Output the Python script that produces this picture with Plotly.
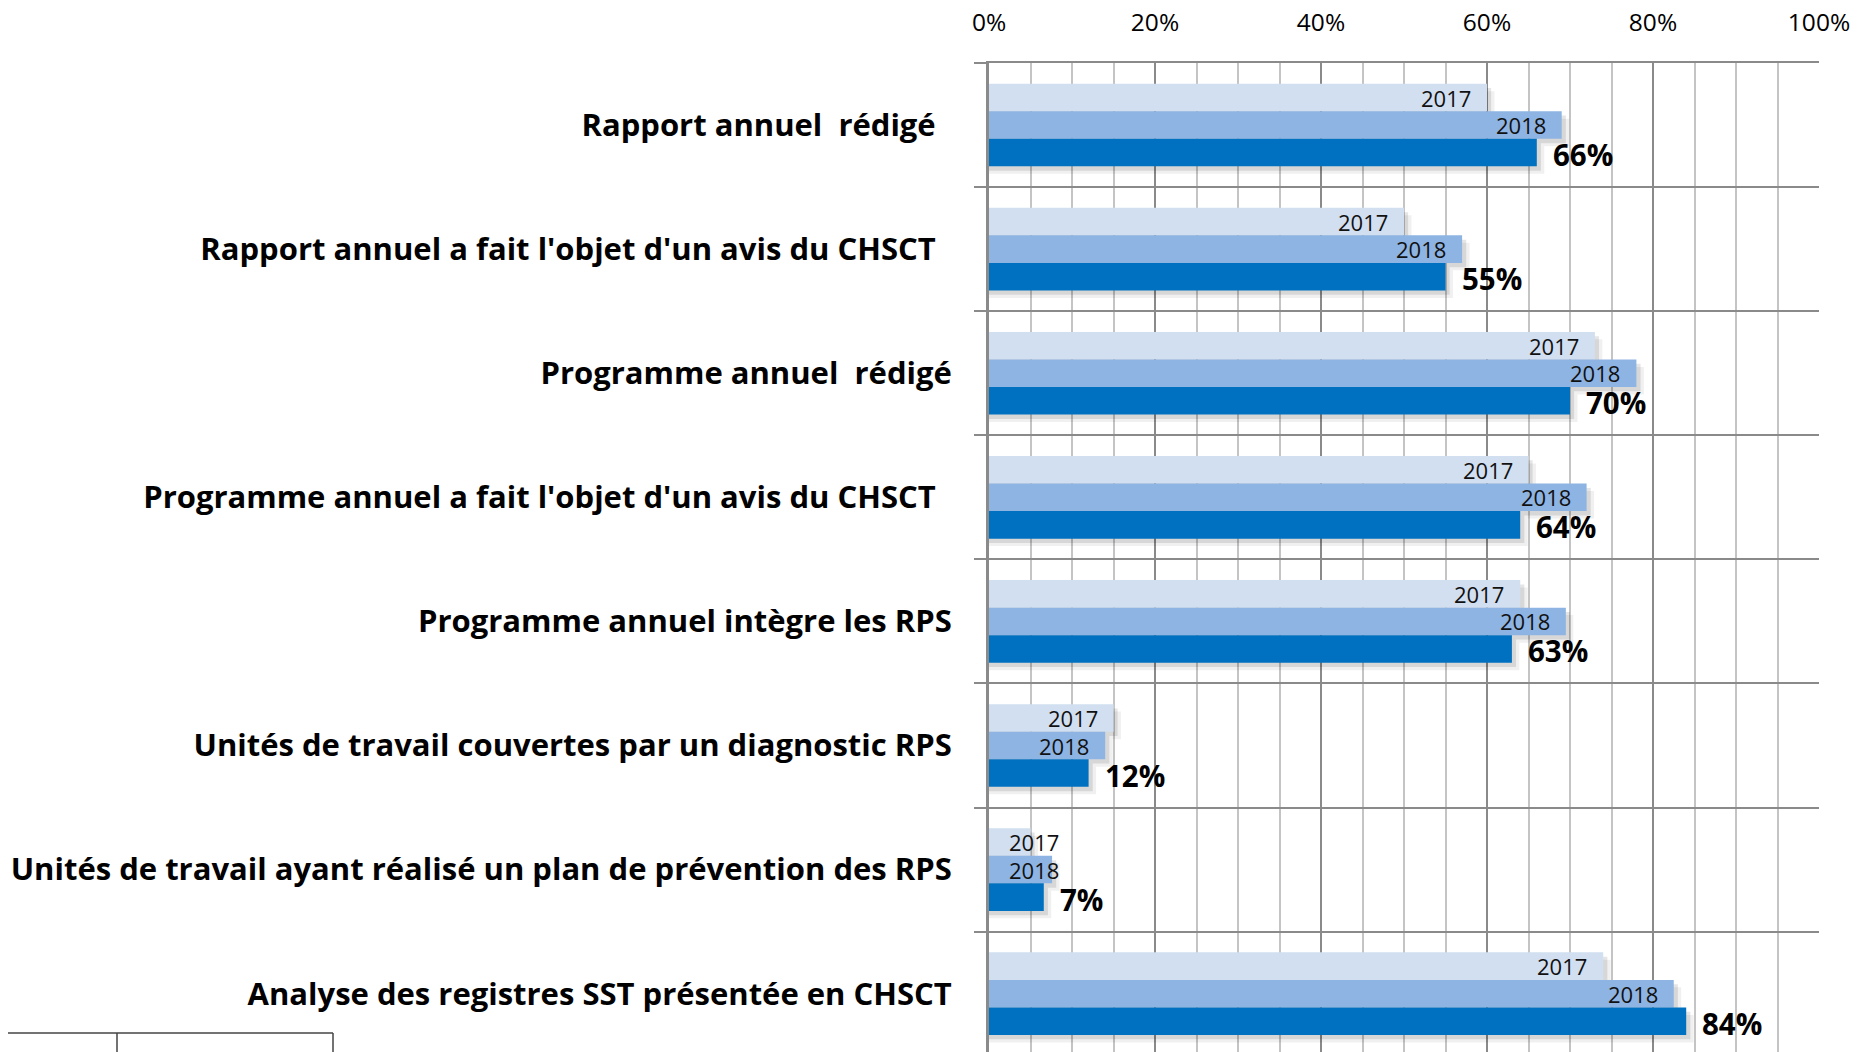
import plotly.graph_objects as go

categories = [
    "Rapport annuel  rédigé\u00a0\u00a0",
    "Rapport annuel a fait l'objet d'un avis du CHSCT\u00a0\u00a0",
    "Programme annuel  rédigé",
    "Programme annuel a fait l'objet d'un avis du CHSCT\u00a0\u00a0",
    "Programme annuel intègre les RPS",
    "Unités de travail couvertes par un diagnostic RPS",
    "Unités de travail ayant réalisé un plan de prévention des RPS",
    "Analyse des registres SST présentée en CHSCT",
]
v2017 = [60, 50, 73, 65, 64, 15, 5, 74]
v2018 = [69, 57, 78, 72, 69.5, 14, 7.6, 82.5]
v2019 = [66, 55, 70, 64, 63, 12, 6.6, 84]
years = ["2017", "2018", "2019"]

colors = ["#D1DFF0", "#8EB4E3", "#0070C0"]
font = "Open Sans"
bw = 0.222
offsets = [-0.333, -0.111, 0.111]
# page body has an 8px margin, so the figure is 8px smaller than the window
W, H = 1854, 1044
ml, mr, mt, mb = 981, 43, 55, 0

fig = go.Figure()

# soft shadow under each bar
for vals, off in zip([v2017, v2018, v2019], offsets):
    for dx, dy, a in [(0.9, 0.06, 0.06), (0.5, 0.035, 0.10)]:
        fig.add_trace(go.Bar(
            y=categories, x=[v + dx for v in vals], orientation="h",
            offset=off + dy, width=bw,
            marker=dict(color=f"rgba(0,0,0,{a})", line_width=0),
            hoverinfo="skip", showlegend=False))

for vals, off, col, name in zip([v2017, v2018, v2019], offsets, colors, years):
    fig.add_trace(go.Bar(
        y=categories, x=vals, orientation="h", name=name,
        offset=off, width=bw,
        marker=dict(color=col, line_width=0),
        showlegend=False))

annotations = []
for i in range(len(categories)):
    for vals, off, name in zip([v2017, v2018], offsets, years):
        annotations.append(dict(
            x=max(vals[i], 10.4), y=i + off + bw / 2, xref="x", yref="y",
            text=name, showarrow=False, xanchor="right", xshift=-14,
            font=dict(family=font, size=22, color="#111")))
    annotations.append(dict(
        x=v2019[i], y=i + offsets[2] + bw / 2, xref="x", yref="y",
        text=f"{round(v2019[i])}%", showarrow=False, xanchor="left", xshift=14, yshift=-2,
        font=dict(family=font, size=29.5, color="#000", weight="bold")))

def px_x(p):
    return (p - 8 - ml) / (W - ml - mr)

def px_y(p):
    return 1 - (p - 8 - mt) / (H - mt - mb)

box = dict(type="line", xref="paper", yref="paper", line=dict(color="#444", width=1.5))
shapes = [
    dict(box, x0=px_x(8), x1=px_x(333), y0=px_y(1033), y1=px_y(1033)),
    dict(box, x0=px_x(117), x1=px_x(117), y0=px_y(1033), y1=px_y(1053)),
    dict(box, x0=px_x(333), x1=px_x(333), y0=px_y(1033), y1=px_y(1053)),
]

fig.update_layout(
    width=W, height=H,
    barmode="overlay",
    margin=dict(l=ml, r=mr, t=mt, b=mb),
    paper_bgcolor="white", plot_bgcolor="white",
    font=dict(family=font, color="#000"),
    annotations=annotations,
    shapes=shapes,
)
fig.update_xaxes(
    side="top", range=[0, 100], dtick=20, ticksuffix="%",
    tickfont=dict(family=font, size=24.5, color="#000"),
    ticklabelstandoff=20, automargin=False,
    showgrid=True, gridcolor="#8A8A8A", gridwidth=2,
    minor=dict(dtick=5, showgrid=True, gridcolor="#C4C4C4", gridwidth=2),
    showline=True, linecolor="#8A8A8A", linewidth=2,
    zeroline=False, ticks="",
)
fig.update_yaxes(
    type="category", categoryorder="array", categoryarray=categories,
    range=[7.47, -0.5], automargin=False,
    tickson="boundaries", ticks="outside", ticklen=12, tickcolor="#8A8A8A", tickwidth=2,
    showgrid=True, gridcolor="#8A8A8A", gridwidth=2,
    showline=True, linecolor="#8A8A8A", linewidth=3,
    tickfont=dict(family=font, size=31, color="#000", weight="bold"),
    ticklabelstandoff=28,
)

fig.write_html("out.html")
